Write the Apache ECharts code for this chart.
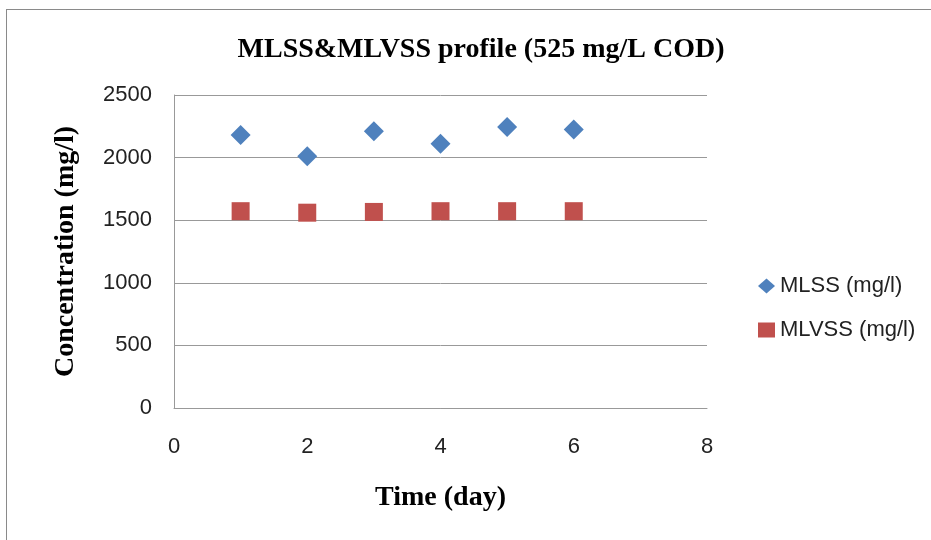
<!DOCTYPE html>
<html>
<head>
<meta charset="utf-8">
<script src="https://cdn.jsdelivr.net/npm/echarts@6/dist/echarts.min.js"></script>
<style>
  html, body { margin: 0; padding: 0; background: #fff; }
  #frame { position: absolute; left: 6px; top: 9px; width: 940px; height: 540px; border: 1px solid #8a8a8a; box-sizing: border-box; }
  #chart { position: absolute; left: 0; top: 0; width: 931px; height: 540px; }
</style>
</head>
<body>
<div id="frame"></div>
<div id="chart"></div>
<script>
const days = [1, 2, 3, 4, 5, 6];
const mlss = [2180, 2010, 2210, 2110, 2245, 2225];
const mlvss = [1572, 1560, 1566, 1572, 1572, 1572];

const chart = echarts.init(document.getElementById('chart'));

const labelFont = { color: '#222', fontFamily: 'Liberation Sans', fontSize: 22 };
const nameFont = { fontFamily: 'Liberation Serif', fontWeight: 'bold', fontSize: 28, color: '#000' };
const gridLine = { color: '#999999', width: 1 };

chart.setOption({
  animation: false,
  title: {
    text: 'MLSS&MLVSS profile (525 mg/L COD)',
    left: 476,
    textAlign: 'center',
    top: 31,
    textStyle: nameFont,
  },
  legend: {
    orient: 'vertical',
    left: 753,
    top: 270,
    itemGap: 22,
    itemWidth: 17,
    itemHeight: 15,
    textStyle: { ...labelFont, lineHeight: 22 },
    data: [
      { name: 'MLSS (mg/l)', icon: 'diamond' },
      { name: 'MLVSS (mg/l)', icon: 'rect' },
    ],
  },
  grid: { left: 174, right: 224, top: 95, bottom: 132 },
  xAxis: {
    type: 'value',
    min: 0,
    max: 8,
    interval: 2,
    name: 'Time (day)',
    nameLocation: 'middle',
    nameGap: 76,
    nameTextStyle: nameFont,
    axisLine: { lineStyle: gridLine },
    axisTick: { show: false },
    axisLabel: { ...labelFont, margin: 28 },
    splitLine: { show: false },
  },
  yAxis: {
    type: 'value',
    min: 0,
    max: 2500,
    interval: 500,
    name: 'Concentration (mg/l)',
    nameLocation: 'middle',
    nameGap: 94,
    nameTextStyle: nameFont,
    axisLine: { show: true, lineStyle: gridLine },
    axisTick: { show: false },
    axisLabel: { ...labelFont, margin: 22, formatter: (v) => String(v) },
    splitLine: { lineStyle: gridLine },
  },
  series: [
    {
      name: 'MLSS (mg/l)',
      type: 'scatter',
      symbol: 'diamond',
      symbolSize: [20, 20],
      itemStyle: { color: '#4f81bd', opacity: 1 },
      data: days.map((d, i) => [d, mlss[i]]),
    },
    {
      name: 'MLVSS (mg/l)',
      type: 'scatter',
      symbol: 'rect',
      symbolSize: [18, 18],
      itemStyle: { color: '#c0504d', opacity: 1 },
      data: days.map((d, i) => [d, mlvss[i]]),
    },
  ],
});
</script>
</body>
</html>
